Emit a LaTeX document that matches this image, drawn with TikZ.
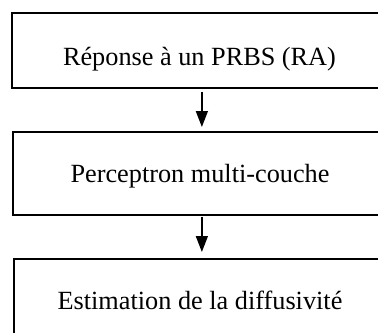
\documentclass[tikz,border=0pt]{standalone}
\usepackage{fontspec}
\setmainfont{Liberation Serif}
\usetikzlibrary{arrows.meta}
\begin{document}
\begin{tikzpicture}[x=0.75pt,y=-0.75pt,
  boxstyle/.style={draw=black, line width=1.3pt, inner sep=0pt, anchor=north west},
  labelstyle/.style={anchor=base, inner sep=0pt, font=\fontsize{19.7pt}{23pt}\selectfont},
  flow/.style={line width=1.1pt, -{Triangle[width=9pt,length=12pt]}}]
\useasboundingbox (0,0) rectangle (378,332);
\clip (0,0) rectangle (378,332);
\fill[white] (0,0) rectangle (378,332);
\node[boxstyle, minimum width=285pt, minimum height=56.25pt] (b1) at (11,12) {};
\node[boxstyle, minimum width=283.5pt, minimum height=62.25pt] (b2) at (12,131) {};
\node[boxstyle, minimum width=282pt, minimum height=67.5pt] (b3) at (13,258) {};
\node[labelstyle] (t1) at (199.5,65) {Réponse à un PRBS (RA)};
\node[labelstyle] (t2) at (200,182) {Perceptron multi-couche};
\node[labelstyle] (t3) at (200,309) {Estimation de la diffusivité};
\draw[flow, shorten <=2.25pt, shorten >=3pt] (b1.south) -- (b2.north);
\draw[flow, shorten <=0.75pt, shorten >=4.5pt] (b2.south) -- (b3.north);
\end{tikzpicture}
\end{document}
